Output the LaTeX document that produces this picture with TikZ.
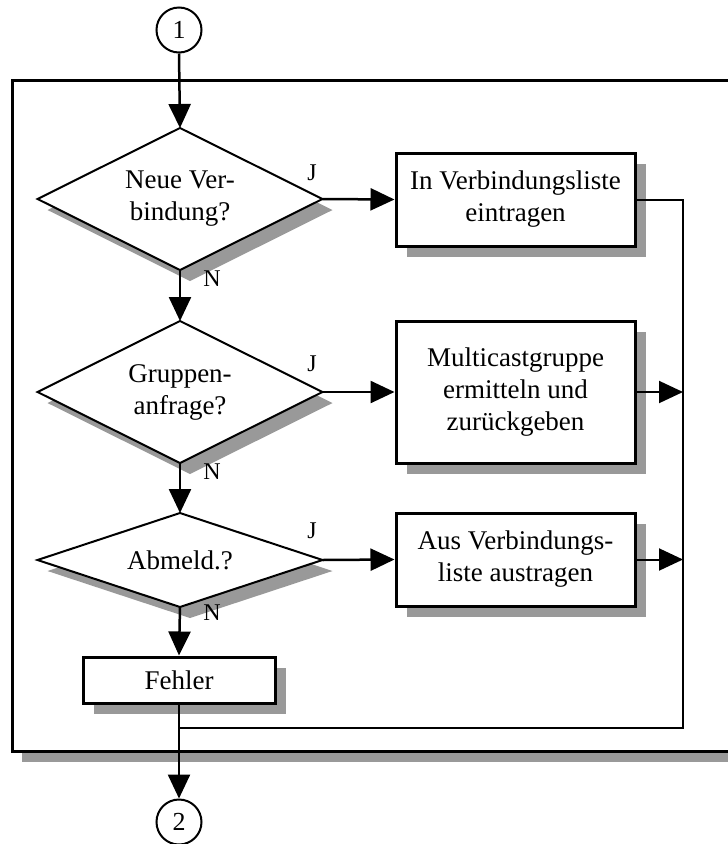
\documentclass[tikz,border=0pt]{standalone}
\usepackage{fontspec}
\setmainfont{Liberation Serif}
\usetikzlibrary{arrows.meta,shadows,backgrounds}
\definecolor{shadowgray}{HTML}{999999}
\begin{document}
\begin{tikzpicture}[x=1pt,y=-1pt,
  txt/.style={font=\fontsize{27}{32}\selectfont, align=center},
  lbl/.style={font=\fontsize{24}{26}\selectfont, inner sep=0pt},
  shad/.style={general shadow={fill=shadowgray, shadow xshift=11pt, shadow yshift=-11pt}},
  decisionbox/.style={rectangle, draw=none, txt, minimum width=285pt,
    inner sep=0pt, outer sep=0pt},
  action/.style={rectangle, draw, line width=3pt, fill=white, shad, txt,
    minimum width=239pt, inner sep=0pt},
  connector/.style={circle, draw, line width=2pt, fill=white, minimum size=45pt,
    inner sep=0pt, font=\fontsize{26}{30}\selectfont},
  flow/.style={line width=2.5pt, -{Triangle[length=24pt,width=22pt]}},
  link/.style={line width=2pt}]
\useasboundingbox (0,0) rectangle (728,844);
\clip (0,0) rectangle (728,844);

% connectors
\node[connector] (c1) at (179,30) {1};
\node[connector] (c2) at (179,822) {2};

% decisions: text boxes, the diamond is drawn through their side midpoints
\node[decisionbox, minimum height=142pt] (d1) at (180,199) {Neue Ver-\\bindung?};
\node[decisionbox, minimum height=142pt] (d2) at (180,392) {Gruppen-\\anfrage?};
\node[decisionbox, minimum height=94pt] (d3) at (180,560) {Abmeld.?};

\begin{scope}[on background layer]
  % outer frame with its shadow
  \fill[shadowgray] (22,90) rectangle (760,762);
  \draw[line width=3pt, fill=white] (12,80) rectangle (750,751);
  % diamonds with their shadows
  \foreach \d in {d1,d2,d3}{
    \begin{scope}[transform canvas={xshift=10pt, yshift=-11pt}]
      \fill[shadowgray] (\d.north) -- (\d.east) -- (\d.south) -- (\d.west) -- cycle;
    \end{scope}
    \filldraw[fill=white, line width=2pt, line join=miter] (\d.north) -- (\d.east) -- (\d.south) -- (\d.west) -- cycle;
  }
\end{scope}

% actions
\node[action, minimum height=93pt] (b1) at (515.5,199.5) {In Verbindungsliste\\eintragen};
\node[action, minimum height=142pt] (b2) at (515.5,392) {Multicastgruppe\\ermitteln und\\zurückgeben};
\node[action, minimum height=93pt] (b3) at (515.5,559.5) {Aus Verbindungs-\\liste austragen};
\node[action, minimum width=192pt, minimum height=46pt] (f) at (179,680) {Fehler};

% collecting line on the right
\coordinate (r1) at (683,199.5);
\coordinate (r2) at (683,392);
\coordinate (r3) at (683,559.5);
\coordinate (rb) at (683,728);
\coordinate (mb) at (179,728);

% branch labels
\node[lbl] (j1) at (312,173) {J};
\node[lbl] (n1) at (212,279) {N};
\node[lbl] (j2) at (312,364) {J};
\node[lbl] (n2) at (212,472) {N};
\node[lbl] (j3) at (312,531) {J};
\node[lbl] (n3) at (212,613) {N};

% flow
\draw[flow] (c1.south) -- (d1.north);
\draw[flow] (d1.east) -- (b1.west);
\draw[flow] (d1.south) -- (d2.north);
\draw[flow] (d2.east) -- (b2.west);
\draw[flow] (d2.south) -- (d3.north);
\draw[flow] (d3.east) -- (b3.west);
\draw[flow] (d3.south) -- (f.north);
\draw[flow] (f.south) -- (c2.north);
\draw[link] (b1.east) -- (r1) -- (rb) -- (mb);
\draw[flow, line width=2pt] (b2.east) -- (r2);
\draw[flow, line width=2pt] (b3.east) -- (r3);
\end{tikzpicture}
\end{document}
